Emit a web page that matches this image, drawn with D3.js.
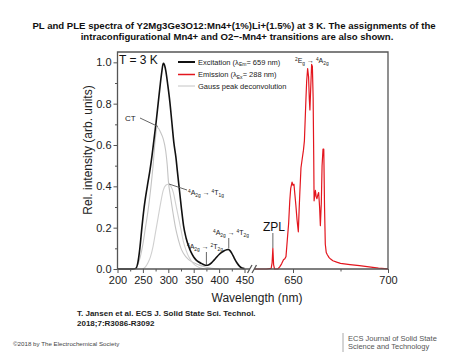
<!DOCTYPE html>
<html><head><meta charset="utf-8">
<script src="https://cdn.jsdelivr.net/npm/d3@7/dist/d3.min.js"></script>
<style>body{margin:0;background:#fff}svg{display:block;font-family:"Liberation Sans",Arial,sans-serif}</style>
</head><body><svg id="c" width="474" height="355"></svg>
<script>
// ---- data ----
const excWl  = [200,230,236,240,244,248,252,256,260,264,268,272,276,280,284,287,290,292,295,299,303,307,311,315,318,322,326,330,335,340,345,350,355,360,365,370,375,380,385,390,395,400,405,410,415,418,421,425,430,435,440,445,450];
const excVal = [0,0,0.003,0.03,0.1,0.2,0.29,0.36,0.42,0.48,0.55,0.63,0.71,0.8,0.89,0.95,0.995,0.99,0.96,0.89,0.81,0.71,0.61,0.54,0.47,0.38,0.29,0.21,0.15,0.11,0.08,0.058,0.043,0.034,0.027,0.021,0.018,0.021,0.03,0.043,0.057,0.07,0.08,0.088,0.093,0.094,0.09,0.076,0.052,0.03,0.014,0.005,0.002];
const ctWl   = [240,245,250,255,260,265,270,274,278,281,285,290,295,298,300,305,310,315,320,325,330,340,350,360,370,380,390,400];
const ctVal  = [0.02,0.06,0.12,0.2,0.28,0.38,0.5,0.62,0.685,0.68,0.66,0.63,0.57,0.5,0.43,0.34,0.26,0.19,0.14,0.1,0.075,0.045,0.03,0.02,0.012,0.006,0.002,0];
const t1Wl   = [250,255,260,265,270,275,280,285,290,295,300,305,310,315,320,325,330,335,340,345,350,355,360,370];
const t1Val  = [0,0.01,0.03,0.06,0.11,0.18,0.25,0.32,0.38,0.405,0.41,0.4,0.37,0.31,0.25,0.19,0.13,0.09,0.06,0.04,0.025,0.015,0.008,0];
const emWl   = [630,636,638.5,639,639.4,639.8,640.3,642,643,644,645,645.7,646.3,647,647.7,648.3,648.8,649.5,650,650.5,651,651.5,652.1,652.8,653.2,653.6,654.2,654.8,655.5,656,656.4,656.8,657.2,657.7,658.2,658.6,658.9,659.3,659.8,660.2,660.6,660.9,661.1,661.5,661.8,662.2,662.6,663.1,663.5,664,664.4,664.9,665.3,665.8,666.2,666.6,667,667.5,668,669,669.8,671,673,675,680,685,690,695,700];
const emVal  = [0,0,0.003,0.03,0.1,0.02,0,0,0.01,0.025,0.045,0.05,0.06,0.14,0.22,0.33,0.39,0.42,0.405,0.41,0.36,0.31,0.24,0.18,0.28,0.37,0.49,0.53,0.575,0.62,0.72,0.82,0.91,0.97,0.93,0.82,0.77,0.87,0.99,0.98,0.83,0.55,0.33,0.36,0.38,0.35,0.34,0.36,0.37,0.3,0.21,0.32,0.5,0.58,0.58,0.3,0.12,0.08,0.07,0.055,0.048,0.04,0.033,0.027,0.021,0.016,0.01,0.004,0.001];
const xTicksL = [200,225,250,275,300,325,350,375,400,425,450];
const xTicksR = [650,675,700];
const yTicks  = [0,0.1,0.2,0.3,0.4,0.5,0.6,0.7,0.8,0.9,1.0];
const legendLabels = ["Excitation", "Emission", "Gauss peak deconvolution"];

// ---- layout ----
const svg = d3.select("#c");
const L = 117.5, R = 388, T = 52, B = 269;
const y  = d3.scaleLinear().domain([0,1.05]).range([B,T]);
const xL = d3.scaleLinear().domain([200,450]).range([L,244.5]);
const xR = d3.scaleLinear().domain([630,700]).range([255,388]);
const frameCol = "#555";

// title
const title = svg.append("g").attr("font-weight","bold").attr("font-size",9.6).attr("fill","#111").attr("text-anchor","middle");
title.append("text").attr("x",234).attr("y",28.5).text("PL and PLE spectra of Y2Mg3Ge3O12:Mn4+(1%)Li+(1.5%) at 3 K. The assignments of the");
title.append("text").attr("x",237).attr("y",40).text("intraconfigurational Mn4+ and O2−-Mn4+ transitions are also shown.");

// curves
const zip = (a,b) => a.map((v,i)=>[v,b[i]]);
const lineL = d3.line().x(d=>xL(d[0])).y(d=>y(d[1])).curve(d3.curveMonotoneX);
const lineR = d3.line().x(d=>xR(d[0])).y(d=>y(d[1])).curve(d3.curveLinear);
svg.append("path").attr("d",lineL(zip(ctWl,ctVal))).attr("fill","none").attr("stroke","#c4c4c4").attr("stroke-width",1.1);
svg.append("path").attr("d",lineL(zip(t1Wl,t1Val))).attr("fill","none").attr("stroke","#d0d0d0").attr("stroke-width",1.1);
svg.append("path").attr("d",lineL(zip(excWl,excVal))).attr("fill","none").attr("stroke","#111").attr("stroke-width",1.6);
svg.append("path").attr("d",lineR(zip(emWl,emVal))).attr("fill","none").attr("stroke","#e3161e").attr("stroke-width",1.2).attr("stroke-linejoin","round");

// axes
const yAxis = svg.append("g").attr("transform",`translate(${L},0)`)
  .call(d3.axisLeft(y).tickValues(yTicks).tickSize(4).tickSizeOuter(0)
    .tickFormat(d => (Math.round(d*10)%2===0) ? d.toFixed(1) : ""));
yAxis.select(".domain").remove();
yAxis.selectAll(".tick").filter(d => Math.round(d*10)%2!==0).select("line").attr("x2",-2.5);
yAxis.selectAll(".tick line").attr("stroke",frameCol);
yAxis.selectAll(".tick text").attr("font-size",11).attr("font-family","Liberation Sans, Arial").attr("fill","#222").attr("x",-6);

function xAxis(scale, vals){
  const g = svg.append("g").attr("transform",`translate(0,${B})`)
    .call(d3.axisBottom(scale).tickValues(vals).tickSize(4).tickSizeOuter(0)
      .tickFormat(d => (d%50===0) ? d : ""));
  g.select(".domain").remove();
  g.selectAll(".tick").filter(d => d%50!==0).select("line").attr("y2",2.5);
  g.selectAll(".tick line").attr("stroke",frameCol);
  g.selectAll(".tick text").attr("font-size",11).attr("font-family","Liberation Sans, Arial").attr("fill","#222").attr("y",7);
}
xAxis(xL, xTicksL);
xAxis(xR, xTicksR);

// frame with break
const fr = svg.append("g").attr("stroke",frameCol).attr("stroke-width",1.3).attr("fill","none");
fr.append("path").attr("d",`M${L},${B}V${T}H${R}V${B}`);
fr.append("line").attr("x1",L).attr("x2",250).attr("y1",B).attr("y2",B);
fr.append("line").attr("x1",254).attr("x2",R).attr("y1",B).attr("y2",B);
fr.append("line").attr("x1",247.5).attr("x2",252).attr("y1",273).attr("y2",265);
fr.append("line").attr("x1",252).attr("x2",256.5).attr("y1",273).attr("y2",265);

// axis titles
svg.append("text").attr("x",257).attr("y",302).attr("text-anchor","middle").attr("font-size",12).attr("fill","#222").text("Wavelength (nm)");
svg.append("text").attr("transform","translate(92,150) rotate(-90)").attr("text-anchor","middle").attr("font-size",12).attr("fill","#222").text("Rel. intensity (arb. units)");

// T = 3 K
svg.append("text").attr("x",119).attr("y",64).attr("font-size",12).attr("fill","#111").text("T = 3 K");

// legend
const leg = svg.append("g").attr("font-size",7.5).attr("fill","#222");
const legCols = ["#111","#e3161e","#c4c4c4"], legW = [2,1.5,1];
const legY = [62,74.5,86];
legendLabels.forEach((lab,i)=>{
  leg.append("line").attr("x1",178).attr("x2",195).attr("y1",legY[i]).attr("y2",legY[i]).attr("stroke",legCols[i]).attr("stroke-width",legW[i]);
  const t = leg.append("text").attr("x",198).attr("y",legY[i]+2.6);
  t.append("tspan").text(lab);
  if(i===0){ t.append("tspan").text(" (λ"); t.append("tspan").attr("font-size",5).attr("dy",1.5).text("Em"); t.append("tspan").attr("dy",-1.5).text("= 659 nm)"); }
  if(i===1){ t.append("tspan").text(" (λ"); t.append("tspan").attr("font-size",5).attr("dy",1.5).text("Ex"); t.append("tspan").attr("dy",-1.5).text("= 288 nm)"); }
});

// transition labels
function trans(x, yb, parts){
  const t = svg.append("text").attr("x",x).attr("y",yb).attr("font-size",7).attr("fill","#222");
  let cur = 0;
  parts.forEach(([s,k])=>{
    const target = k==="sup" ? -2.5 : k==="sub" ? 2 : 0;
    const sp = t.append("tspan").attr("dy",target-cur).text(s);
    if(k) sp.attr("font-size",4.8);
    cur = target;
  });
}
const T1g = [["4","sup"],["A",""],["2g","sub"],[" → ",""],["4","sup"],["T",""],["1g","sub"]];
const T2g2 = [["4","sup"],["A",""],["2g","sub"],[" → ",""],["2","sup"],["T",""],["2g","sub"]];
const T2g4 = [["4","sup"],["A",""],["2g","sub"],[" → ",""],["4","sup"],["T",""],["2g","sub"]];
const EgA = [["2","sup"],["E",""],["g","sub"],[" → ",""],["4","sup"],["A",""],["2g","sub"]];
trans(188,195,T1g);
trans(187,249,T2g2);
trans(213,235,T2g4);
trans(295,63,EgA);

const ann = svg.append("g").attr("stroke","#555").attr("stroke-width",0.9);
ann.append("line").attr("x1",140).attr("y1",118).attr("x2",158).attr("y2",126.5);
ann.append("line").attr("x1",169).attr("y1",184).attr("x2",187).attr("y2",190);
ann.append("line").attr("x1",xL(375)).attr("x2",xL(375)).attr("y1",252).attr("y2",265);
ann.append("line").attr("x1",xL(419)).attr("x2",xL(419)).attr("y1",238).attr("y2",248.5);
ann.append("line").attr("x1",xR(639.4)).attr("x2",xR(639.4)).attr("y1",233).attr("y2",248);
svg.append("text").attr("x",125).attr("y",120.5).attr("font-size",8).attr("fill","#222").text("CT");
svg.append("text").attr("x",263).attr("y",231).attr("font-size",12).attr("fill","#111").text("ZPL");

// footer
svg.append("text").attr("x",77).attr("y",316).attr("font-size",8).attr("font-weight","bold").attr("fill","#222").text("T. Jansen et al. ECS J. Solid State Sci. Technol.");
svg.append("text").attr("x",77).attr("y",326).attr("font-size",8).attr("font-weight","bold").attr("fill","#222").text("2018;7:R3086-R3092");
svg.append("text").attr("x",13).attr("y",346).attr("font-size",6.2).attr("fill","#444").text("©2018 by The Electrochemical Society");
svg.append("line").attr("x1",343).attr("x2",343).attr("y1",333).attr("y2",352).attr("stroke","#aaa").attr("stroke-width",1);
svg.append("text").attr("x",348).attr("y",341).attr("font-size",7.5).attr("fill","#555").text("ECS Journal of Solid State");
svg.append("text").attr("x",348).attr("y",348.5).attr("font-size",7.5).attr("fill","#555").text("Science and Technology");
</script></body></html>
